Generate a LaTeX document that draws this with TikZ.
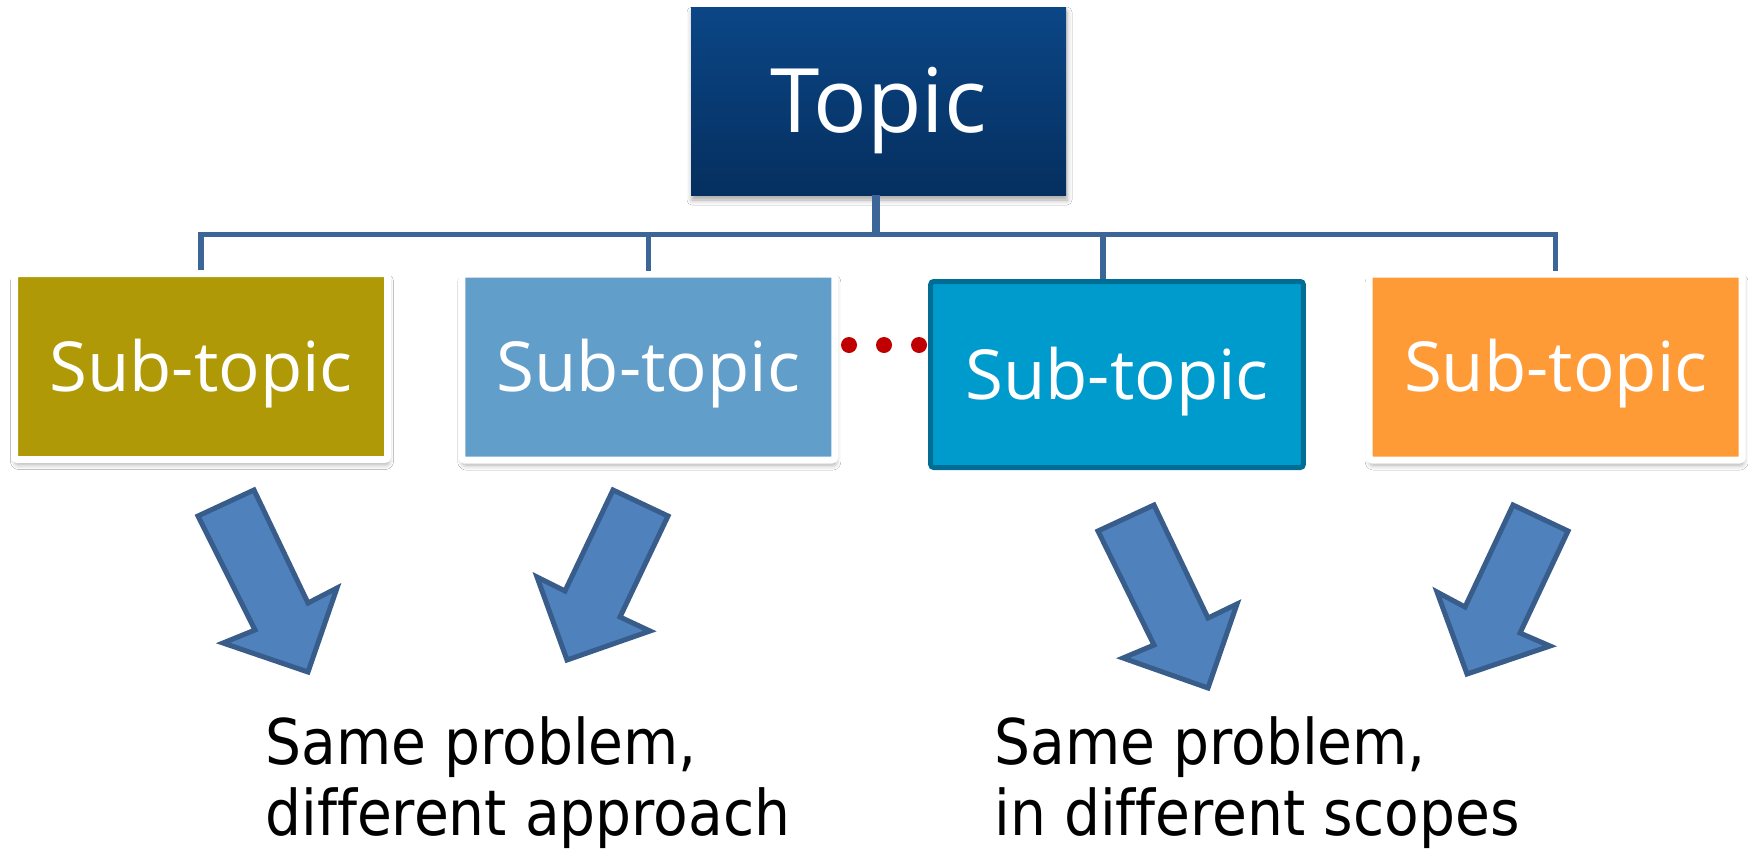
\documentclass[tikz,border=0pt]{standalone}
\usepackage{fontspec}
\setmainfont{Open Sans}
\newfontfamily\notefont{DejaVu Sans}[FakeStretch=0.9, Ligatures=NoCommon]
\usetikzlibrary{shadows.blur}
\definecolor{topicTop}{RGB}{11,70,134}
\definecolor{topicBot}{RGB}{5,47,95}
\definecolor{oliveBox}{RGB}{175,153,6}
\definecolor{skyBox}{RGB}{98,158,202}
\definecolor{tealBox}{RGB}{0,155,205}
\definecolor{tealEdge}{RGB}{0,110,148}
\definecolor{orangeBox}{RGB}{255,155,54}
\definecolor{connLine}{RGB}{60,101,152}
\definecolor{arrowFill}{RGB}{79,129,189}
\definecolor{arrowEdge}{RGB}{56,93,138}
\definecolor{dotRed}{RGB}{192,0,0}
\begin{document}
\begin{tikzpicture}[x=0.5pt,y=-0.5pt,
  softshadow/.style={blur shadow={shadow xshift=0.5pt, shadow yshift=-2.5pt, shadow blur radius=2.5pt, shadow opacity=35}},
  topicbox/.style={minimum width=187.5pt, minimum height=94pt, inner sep=0pt,
    top color=topicTop, bottom color=topicBot, text=white,
    font=\fontsize{44.5}{50}\selectfont, text height=31.7pt, text depth=0pt, softshadow},
  subbox/.style={minimum width=186.5pt, minimum height=93pt, inner sep=0pt,
    draw=white, line width=3.5pt, rounded corners=1.5pt, text=white,
    font=\fontsize{34.5}{40}\selectfont, text height=24.6pt, text depth=0pt, softshadow},
  subboxdark/.style={minimum width=186.3pt, minimum height=93pt, inner sep=0pt,
    draw=tealEdge, fill=tealBox, line width=2.5pt, rounded corners=1.5pt, text=white,
    font=\fontsize{34.5}{40}\selectfont, text height=24.6pt, text depth=0pt},
  conn/.style={draw=connLine, line width=2.75pt},
  trunk/.style={draw=connLine, line width=4pt},
  bigarrow/.style={fill=arrowFill, draw=arrowEdge, line width=2.5pt, line join=miter},
  dotnode/.style={circle, fill=dotRed, minimum size=8pt, inner sep=0pt},
  note/.style={align=left, inner sep=0pt, text=black,
    font=\notefont\fontsize{31.5}{35.5}\selectfont}
]
\useasboundingbox[fill=white] (0,0) rectangle (1748,851);

% boxes
\node[topicbox] (topic) at (878.5,101) {Topic};
\node[subbox, fill=oliveBox] (b1) at (201,366.5) {Sub-topic};
\node[subbox, fill=skyBox] (b2) at (648.3,367) {Sub-topic};
\node[subboxdark] (b3) at (1117,374.5) {Sub-topic};
\node[subbox, fill=orangeBox] (b4) at (1555.7,367) {Sub-topic};

% connectors
\coordinate (j) at (876,234.5);
\coordinate (v3) at (1103,234.5);
\draw[trunk] (topic.south -| j) -- (j);
\draw[conn] (b1.north) -- (b1.north |- j) -- (b4.north |- j) -- (b4.north);
\draw[conn] (b2.north |- j) -- (b2.north);
\draw[conn] (v3) -- (v3 |- b3.north);

% dots
\node[dotnode] (d1) at (849,345) {};
\node[dotnode] (d2) at (884,345) {};
\node[dotnode] (d3) at (919,345) {};

% block arrows
\draw[bigarrow] (198,516) -- (254,490) -- (308,603) -- (337,588) -- (308,672) -- (223,643) -- (255,630) -- cycle;
\draw[bigarrow] (613,490) -- (668,516) -- (620,617) -- (650,631) -- (567,660) -- (537,577) -- (565,591) -- cycle;
\draw[bigarrow] (1098,531) -- (1154,505) -- (1208,618) -- (1237,604) -- (1208,688) -- (1123,658) -- (1154,645) -- cycle;
\draw[bigarrow] (1513,505) -- (1568,531) -- (1520,633) -- (1550,646) -- (1467,674) -- (1437,592) -- (1465,607) -- cycle;

% notes
\node[note, anchor=base west] (n1) at (265,835) {Same problem,\\different approach};
\node[note, anchor=base west] (n2) at (994,835) {Same problem,\\in different scopes};
\end{tikzpicture}
\end{document}
